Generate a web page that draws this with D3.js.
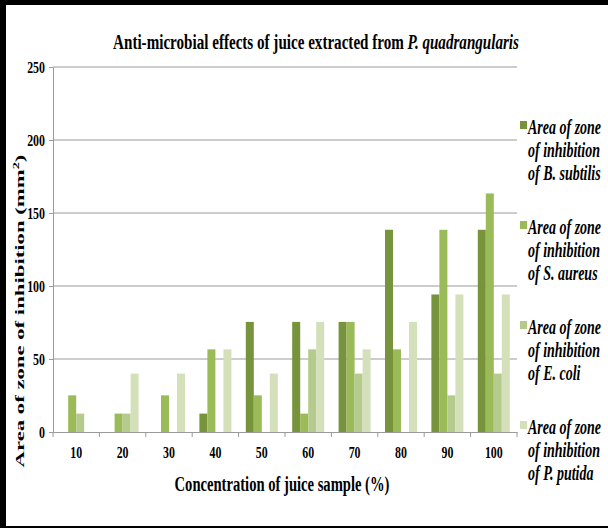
<!DOCTYPE html>
<html>
<head>
<meta charset="utf-8">
<script src="https://cdn.jsdelivr.net/npm/d3@7"></script>
<style>
  body { margin: 0; background: #fff; }
  text { font-family: "Liberation Serif", "Times New Roman", serif; font-weight: bold; }
</style>
</head>
<body>
<div id="chart"></div>
<script>
// Data
const concentrations = ['10', '20', '30', '40', '50', '60', '70', '80', '90', '100'];
const seriesKeys = ['bSubtilis', 'sAureus', 'eColi', 'pPutida'];
const seriesSpecies = ['B. subtilis', 'S. aureus', 'E. coli', 'P. putida'];
const bSubtilis = [0, 0, 0, 12.6, 75.4, 75.4, 75.4, 138.5, 94.2, 138.5];
const sAureus = [25.1, 12.6, 25.1, 56.6, 25.1, 12.6, 75.4, 56.6, 138.5, 163.4];
const eColi = [12.6, 12.6, 0, 0, 0, 56.6, 40, 0, 25.1, 40];
const pPutida = [0, 40, 40, 56.6, 40, 75.4, 56.6, 75.4, 94.2, 94.2];
const yTicks = [0, 50, 100, 150, 200, 250];

const colors = ['#77933c', '#9bbb59', '#b5cb8e', '#d3e0ba'];
const squeezeX = 0.7;

const dataset = concentrations.map((c, i) => ({
    conc: c,
    bSubtilis: bSubtilis[i],
    sAureus: sAureus[i],
    eColi: eColi[i],
    pPutida: pPutida[i]
}));

const dimensions = {
    width: 608,
    height: 528,
    left: 53,
    right: 517,
    top: 67,
    bottom: 432
}

// Scales
const x0 = d3.scaleBand()
    .domain(concentrations)
    .range([dimensions.left, dimensions.right])

const x1 = d3.scaleBand()
    .domain(seriesKeys)
    .range([x0.bandwidth() * 0.155, x0.bandwidth() * 0.845])

const yScale = d3.scaleLinear()
    .domain([0, 250])
    .range([dimensions.bottom, dimensions.top])

const colorScale = d3.scaleOrdinal().domain(seriesKeys).range(colors)

const svg = d3.select('#chart')
    .append('svg')
    .attr('width', dimensions.width)
    .attr('height', dimensions.height)

// frame
svg.append('rect').attr('x', 0).attr('y', 0).attr('width', 6).attr('height', dimensions.height).attr('fill', '#000')
svg.append('rect').attr('x', 0).attr('y', 0).attr('width', dimensions.width).attr('height', 5).attr('fill', '#000')
svg.append('rect').attr('x', 0).attr('y', dimensions.height - 2).attr('width', dimensions.width).attr('height', 2).attr('fill', '#000')

// gridlines
svg.append('g')
    .selectAll('line')
    .data(yTicks.filter(d => d > 0))
    .join('line')
    .attr('x1', dimensions.left)
    .attr('x2', dimensions.right)
    .attr('y1', d => yScale(d))
    .attr('y2', d => yScale(d))
    .attr('stroke', '#9a9a9a')
    .attr('stroke-width', 1)

// bars
svg.append('g')
    .selectAll('g')
    .data(dataset)
    .join('g')
    .attr('transform', d => `translate(${x0(d.conc)},0)`)
    .selectAll('rect')
    .data(d => seriesKeys.map(k => ({ key: k, value: d[k] })))
    .join('rect')
    .attr('x', d => x1(d.key))
    .attr('width', x1.bandwidth())
    .attr('y', d => yScale(d.value))
    .attr('height', d => yScale(0) - yScale(d.value))
    .attr('fill', d => colorScale(d.key))

// y axis
const yAxis = d3.axisLeft(yScale)
    .tickValues(yTicks)
    .tickSize(4)
    .tickSizeOuter(0)

const yAxisGroup = svg.append('g')
    .attr('transform', `translate(${dimensions.left},0)`)
    .call(yAxis)
yAxisGroup.select('.domain').attr('stroke', '#9a9a9a')
yAxisGroup.selectAll('.tick line').attr('stroke', '#9a9a9a')
yAxisGroup.selectAll('.tick text')
    .attr('x', 0)
    .attr('font-size', 17)
    .attr('font-family', '"Liberation Serif", serif')
    .attr('fill', '#000')
    .attr('transform', `translate(-8,0) scale(${squeezeX},1)`)

// x axis
const xAxis = d3.axisBottom(x0)
    .tickSize(0)
    .tickPadding(13)

const xAxisGroup = svg.append('g')
    .attr('transform', `translate(0,${dimensions.bottom})`)
    .call(xAxis)
xAxisGroup.select('.domain').attr('stroke', '#9a9a9a')
xAxisGroup.selectAll('.tick text')
    .attr('y', 0)
    .attr('dy', 0)
    .attr('font-size', 17)
    .attr('font-family', '"Liberation Serif", serif')
    .attr('fill', '#000')
    .attr('transform', `translate(0,26) scale(${squeezeX},1)`)

// boundary tick marks below the x axis
xAxisGroup.append('g')
    .selectAll('line')
    .data(concentrations.map(c => x0(c)).concat([x0.range()[1]]))
    .join('line')
    .attr('x1', d => d)
    .attr('x2', d => d)
    .attr('y1', 0)
    .attr('y2', 5)
    .attr('stroke', '#9a9a9a')

// title
const title = svg.append('text')
    .attr('font-size', 22)
    .attr('text-anchor', 'middle')
title.append('tspan').text('Anti-microbial effects of juice extracted from ')
title.append('tspan').attr('font-style', 'italic').text('P. quadrangularis')
const titleW = title.node().getComputedTextLength()
title.attr('transform', `translate(316,49) scale(${406 / titleW},1)`)

// x title
const xTitle = svg.append('text')
    .attr('font-size', 21)
    .attr('text-anchor', 'middle')
    .text('Concentration of juice sample (%)')
const xTitleW = xTitle.node().getComputedTextLength()
xTitle.attr('transform', `translate(282,491) scale(${215 / xTitleW},1)`)

// y title
const yTitle = svg.append('text')
    .attr('font-size', 19)
    .attr('text-anchor', 'middle')
yTitle.append('tspan').text('Area of zone of inhibition (mm')
yTitle.append('tspan').attr('font-size', 12).attr('dy', -7).text('2')
yTitle.append('tspan').attr('dy', 7).text(')')
const yTitleW = yTitle.node().getComputedTextLength()
yTitle.attr('transform', `translate(24,311) rotate(-90) scale(${313 / yTitleW},${squeezeX})`)

// legend
const legendTop = [128, 228, 328, 428]
const legend = svg.append('g')
    .selectAll('g')
    .data(seriesKeys)
    .join('g')
    .attr('transform', (d, i) => `translate(520,${legendTop[i]})`)

legend.append('rect')
    .attr('x', 0)
    .attr('y', -7)
    .attr('width', 7)
    .attr('height', 8)
    .attr('fill', d => colorScale(d))

legend.each(function (d, i) {
    const lines = ['Area of zone', 'of inhibition', 'of ' + seriesSpecies[i]]
    d3.select(this).selectAll('text')
        .data(lines)
        .join('text')
        .attr('font-size', 20)
        .attr('font-style', 'italic')
        .attr('fill', '#000')
        .attr('transform', (t, j) => `translate(8,${6 + j * 23}) scale(${squeezeX},1)`)
        .text(t => t)
})
</script>
</body>
</html>
